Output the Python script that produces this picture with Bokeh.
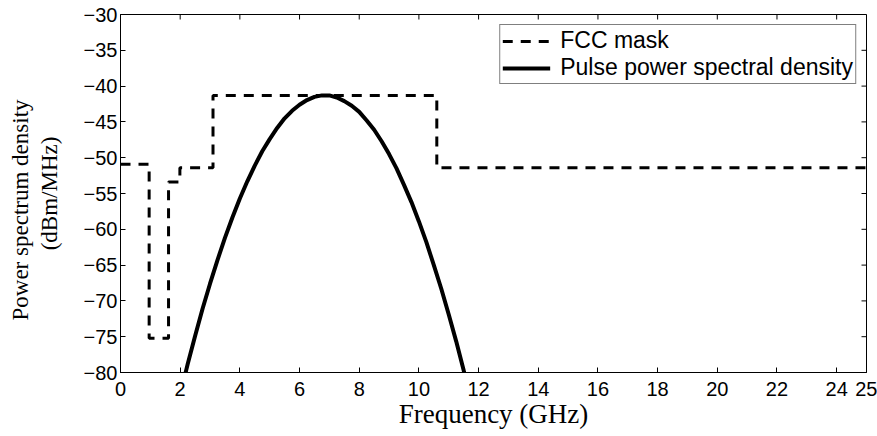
from bokeh.plotting import figure
from bokeh.models import FixedTicker, Range1d, Title
from bokeh.embed import file_html
from bokeh.resources import INLINE

# FCC indoor UWB emission mask: step edges (GHz) and level held after each edge (dBm/MHz)
fcc_freq = [0, 0.96, 1.61, 1.99, 3.1, 10.6, 25]
fcc_level = [-50.9, -75.2, -53.4, -51.4, -41.3, -51.4, -51.4]

# Pulse power spectral density
pulse_freq = [2.1, 2.2, 2.25, 2.5, 2.75, 3.0, 3.25, 3.5, 3.75, 4.0, 4.25, 4.5, 4.75,
              5.0, 5.25, 5.5, 5.75, 6.0, 6.25, 6.5, 6.75, 6.85, 7.0, 7.25, 7.5,
              7.75, 8.0, 8.25, 8.5, 8.75, 9.0, 9.25, 9.5, 9.75, 10.0, 10.25,
              10.5, 10.75, 11.0, 11.25, 11.5, 11.6]
pulse_psd = [-81.4, -79.7, -78.85, -74.9, -71.1, -67.6, -64.3, -61.2, -58.35, -55.7,
             -53.3, -51.1, -49.1, -47.4, -45.85, -44.5, -43.45, -42.6, -41.95, -41.5,
             -41.3, -41.3, -41.3, -41.6, -42.1, -42.75, -43.6, -44.8, -46.1, -47.7,
             -49.5, -51.5, -53.8, -56.2, -58.9, -61.8, -65.0, -68.3, -71.9, -75.65,
             -79.7, -81.4]

x_ticks = [0, 2, 4, 6, 8, 10, 12, 14, 16, 18, 20, 22, 24, 25]
y_ticks = [-80, -75, -70, -65, -60, -55, -50, -45, -40, -35, -30]
y_tick_labels = {v: "\u2212" + str(abs(v)) for v in y_ticks}

x_title = "Frequency (GHz)"
y_title_lines = ["Power spectrum density", "(dBm/MHz)"]

X_MIN, X_MAX = 0, 25
Y_MIN, Y_MAX = -80, -30

TICK_FONT = "Liberation Sans"
LABEL_FONT = "Liberation Serif"

W, H = 877, 436
BL, BR, BT, BB = 120, 11, 14, 64
TICK_PX = 5

p = figure(width=W, height=H, output_backend="svg", toolbar_location=None,
           x_range=Range1d(X_MIN, X_MAX), y_range=Range1d(Y_MIN, Y_MAX),
           min_border_left=BL, min_border_right=BR, min_border_top=BT,
           min_border_bottom=BB)
p.background_fill_color = "white"
p.border_fill_color = "white"
p.grid.visible = False
p.outline_line_color = "black"
p.outline_line_width = 1

# mirrored inward ticks on top and right edges of the box
frame_w = W - BL - BR
frame_h = H - BT - BB
dy = TICK_PX * (Y_MAX - Y_MIN) / frame_h
dx = TICK_PX * (X_MAX - X_MIN) / frame_w
p.segment(x0=x_ticks, y0=[Y_MAX] * len(x_ticks), x1=x_ticks,
          y1=[Y_MAX - dy] * len(x_ticks), line_color="black", line_width=1)
p.segment(x0=[X_MAX] * len(y_ticks), y0=y_ticks, x1=[X_MAX - dx] * len(y_ticks),
          y1=y_ticks, line_color="black", line_width=1)

p.step(fcc_freq, fcc_level, mode="after", line_color="black", line_width=3,
       line_dash="10 8", legend_label="FCC mask")
p.line(pulse_freq, pulse_psd, line_color="black", line_width=4,
       legend_label="Pulse power spectral density")

def style_axis(ax, ticks):
    ax.ticker = FixedTicker(ticks=ticks)
    ax.major_tick_in = TICK_PX
    ax.major_tick_out = 0
    ax.minor_tick_line_color = None
    ax.axis_line_color = "black"
    ax.major_tick_line_color = "black"
    ax.major_label_text_font = TICK_FONT
    ax.major_label_text_font_size = "20px"
    ax.major_label_text_color = "black"
    ax.axis_label_text_font = LABEL_FONT
    ax.axis_label_text_font_style = "normal"
    ax.axis_label_text_color = "black"

xa = p.xaxis[0]
style_axis(xa, x_ticks)
xa.axis_label = x_title
xa.axis_label_text_font_size = "27px"
xa.major_label_standoff = 9
xa.axis_label_standoff = 0

ya = p.yaxis[0]
style_axis(ya, y_ticks)
ya.major_label_overrides = y_tick_labels
ya.major_label_standoff = 3
ya.axis_label = y_title_lines[1]
ya.axis_label_text_font_size = "23px"
ya.axis_label_standoff = 19

# outer line of the y title as a left-side title; "left" align = from the bottom
t_outer = Title(text=y_title_lines[0], align="left", offset=52, standoff=2,
                text_font=LABEL_FONT, text_font_size="23px",
                text_font_style="normal", text_color="black")
p.add_layout(t_outer, "left")

lg = p.legend[0]
lg.location = "top_right"
lg.label_text_font = TICK_FONT
lg.label_text_font_size = "23px"
lg.label_text_color = "black"
lg.glyph_width = 48
lg.label_standoff = 10
lg.label_height = 20
lg.glyph_height = 20
lg.spacing = 0
lg.padding = 2
lg.margin = 10
lg.border_line_color = "black"
lg.border_line_width = 1
lg.background_fill_alpha = 1

open("out.html", "w").write(file_html(p, INLINE))
